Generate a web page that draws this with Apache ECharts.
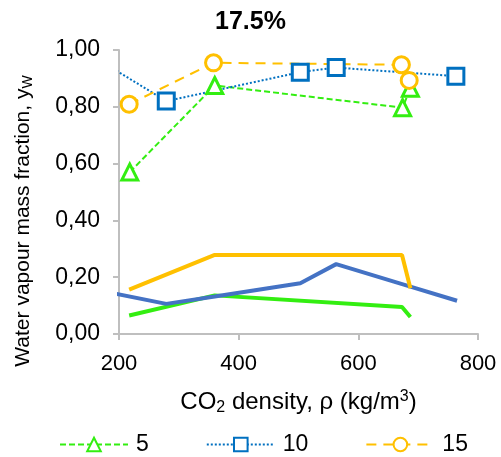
<!DOCTYPE html>
<html>
<head>
<meta charset="utf-8">
<script src="https://cdn.jsdelivr.net/npm/echarts@6/dist/echarts.min.js"></script>
<style>
html,body{margin:0;padding:0;background:#fff;}
#chart{width:501px;height:457px;}
</style>
</head>
<body>
<div id="chart"></div>
<script>
// ---- data ----
const titleText = '17.5%';
const xMin = 200, xMax = 800, xStep = 200;
const yMin = 0, yMax = 1, yStep = 0.2;

// marker series (legend)
const s5x  = [218, 360, 674, 687];
const s5y  = [0.57, 0.875, 0.797, 0.865];
const s10x = [150, 279, 503, 563, 763];
const s10y = [0.986, 0.82, 0.922, 0.938, 0.908];
const s15x = [217, 358, 672, 685];
const s15y = [0.809, 0.955, 0.948, 0.893];

// solid lines (no markers)
const l15x = [217, 359, 673, 687];
const l15y = [0.156, 0.278, 0.278, 0.161];
const l10x = [150, 279, 360, 503, 563, 687, 765];
const l10y = [0.161, 0.106, 0.132, 0.179, 0.246, 0.167, 0.117];
const l5x  = [217, 360, 673, 687];
const l5y  = [0.065, 0.136, 0.095, 0.06];

const legendNames = ['5', '10', '15'];

function pairs(xs, ys) { return xs.map((x, i) => [x, ys[i]]); }

const green = '#33EE11', blueM = '#0070C0', blueL = '#4472C4', orange = '#FFC000';
const FONT = 'Liberation Sans, Arial, sans-serif';

const chart = echarts.init(document.getElementById('chart'), null, {renderer: 'canvas'});

function markerSeries(name, xs, ys, color, symbol, dash) {
  return {
    name: name, type: 'line', data: pairs(xs, ys), clip: true,
    symbol: symbol, symbolSize: 16, showAllSymbol: true,
    color: color,
    lineStyle: {color: color, width: 2, type: dash},
    itemStyle: {color: '#fff', borderColor: color, borderWidth: 3},
    emphasis: {disabled: true}, animation: false, z: 3
  };
}
function solidSeries(xs, ys, color) {
  return {
    type: 'line', data: pairs(xs, ys), clip: true, symbol: 'none',
    lineStyle: {color: color, width: 4}, color: color,
    emphasis: {disabled: true}, animation: false, z: 2
  };
}

function richFor(size) {
  return {
    sub: {fontSize: Math.round(size * 0.68), lineHeight: 17, verticalAlign: 'bottom', fontFamily: FONT, color: '#000'},
    sup: {fontSize: Math.round(size * 0.68), lineHeight: 20, verticalAlign: 'top', fontFamily: FONT, color: '#000'}
  };
}

const option = {
  backgroundColor: '#fff',
  animation: false,
  title: {
    text: titleText, left: 'center', top: 5,
    textStyle: {fontFamily: FONT, fontSize: 25, fontWeight: 'bold', color: '#000'}
  },
  grid: {left: 119, right: 23, top: 50, bottom: 123, containLabel: false},
  xAxis: {
    type: 'value', min: xMin, max: xMax, interval: xStep,
    name: 'CO{sub|2} density, ρ (kg/m{sup|3})',
    nameLocation: 'middle', nameGap: 55,
    nameTextStyle: {fontFamily: FONT, fontSize: 24, color: '#000', lineHeight: 27, rich: richFor(24)},
    axisLine: {show: true, lineStyle: {color: '#BFBFBF', width: 2}},
    axisTick: {show: true, length: 6, lineStyle: {color: '#BFBFBF', width: 2}},
    axisLabel: {fontFamily: FONT, fontSize: 22, color: '#000', margin: 19},
    splitLine: {show: false}
  },
  yAxis: {
    type: 'value', min: yMin, max: yMax, interval: yStep,
    axisLine: {show: true, lineStyle: {color: '#BFBFBF', width: 2}},
    axisTick: {show: true, length: 6, lineStyle: {color: '#BFBFBF', width: 2}},
    axisLabel: {fontFamily: FONT, fontSize: 23, color: '#000', margin: 19,
      formatter: v => v.toFixed(2).replace('.', ',')},
    splitLine: {show: false}
  },
  legend: {
    data: legendNames, left: 54, top: 428, itemWidth: 68, itemHeight: 17, itemGap: 57,
    textStyle: {fontFamily: FONT, fontSize: 23, color: '#000', padding: [0, 0, 0, 3]},
    selectedMode: false
  },
  graphic: [{
    type: 'text', x: 23, y: 221, rotation: Math.PI / 2,
    style: {
      text: 'Water vapour mass fraction, y{sub|W}',
      fontFamily: FONT, fontSize: 21, fill: '#000', lineHeight: 25,
      align: 'center', verticalAlign: 'middle', rich: richFor(21)
    }
  }],
  series: [
    solidSeries(l5x, l5y, green),
    solidSeries(l10x, l10y, blueL),
    solidSeries(l15x, l15y, orange),
    markerSeries(legendNames[0], s5x, s5y, green, 'triangle', [6, 3]),
    markerSeries(legendNames[1], s10x, s10y, blueM, 'rect', [2, 2]),
    markerSeries(legendNames[2], s15x, s15y, orange, 'circle', [10, 7])
  ]
};
chart.setOption(option);
</script>
</body>
</html>
